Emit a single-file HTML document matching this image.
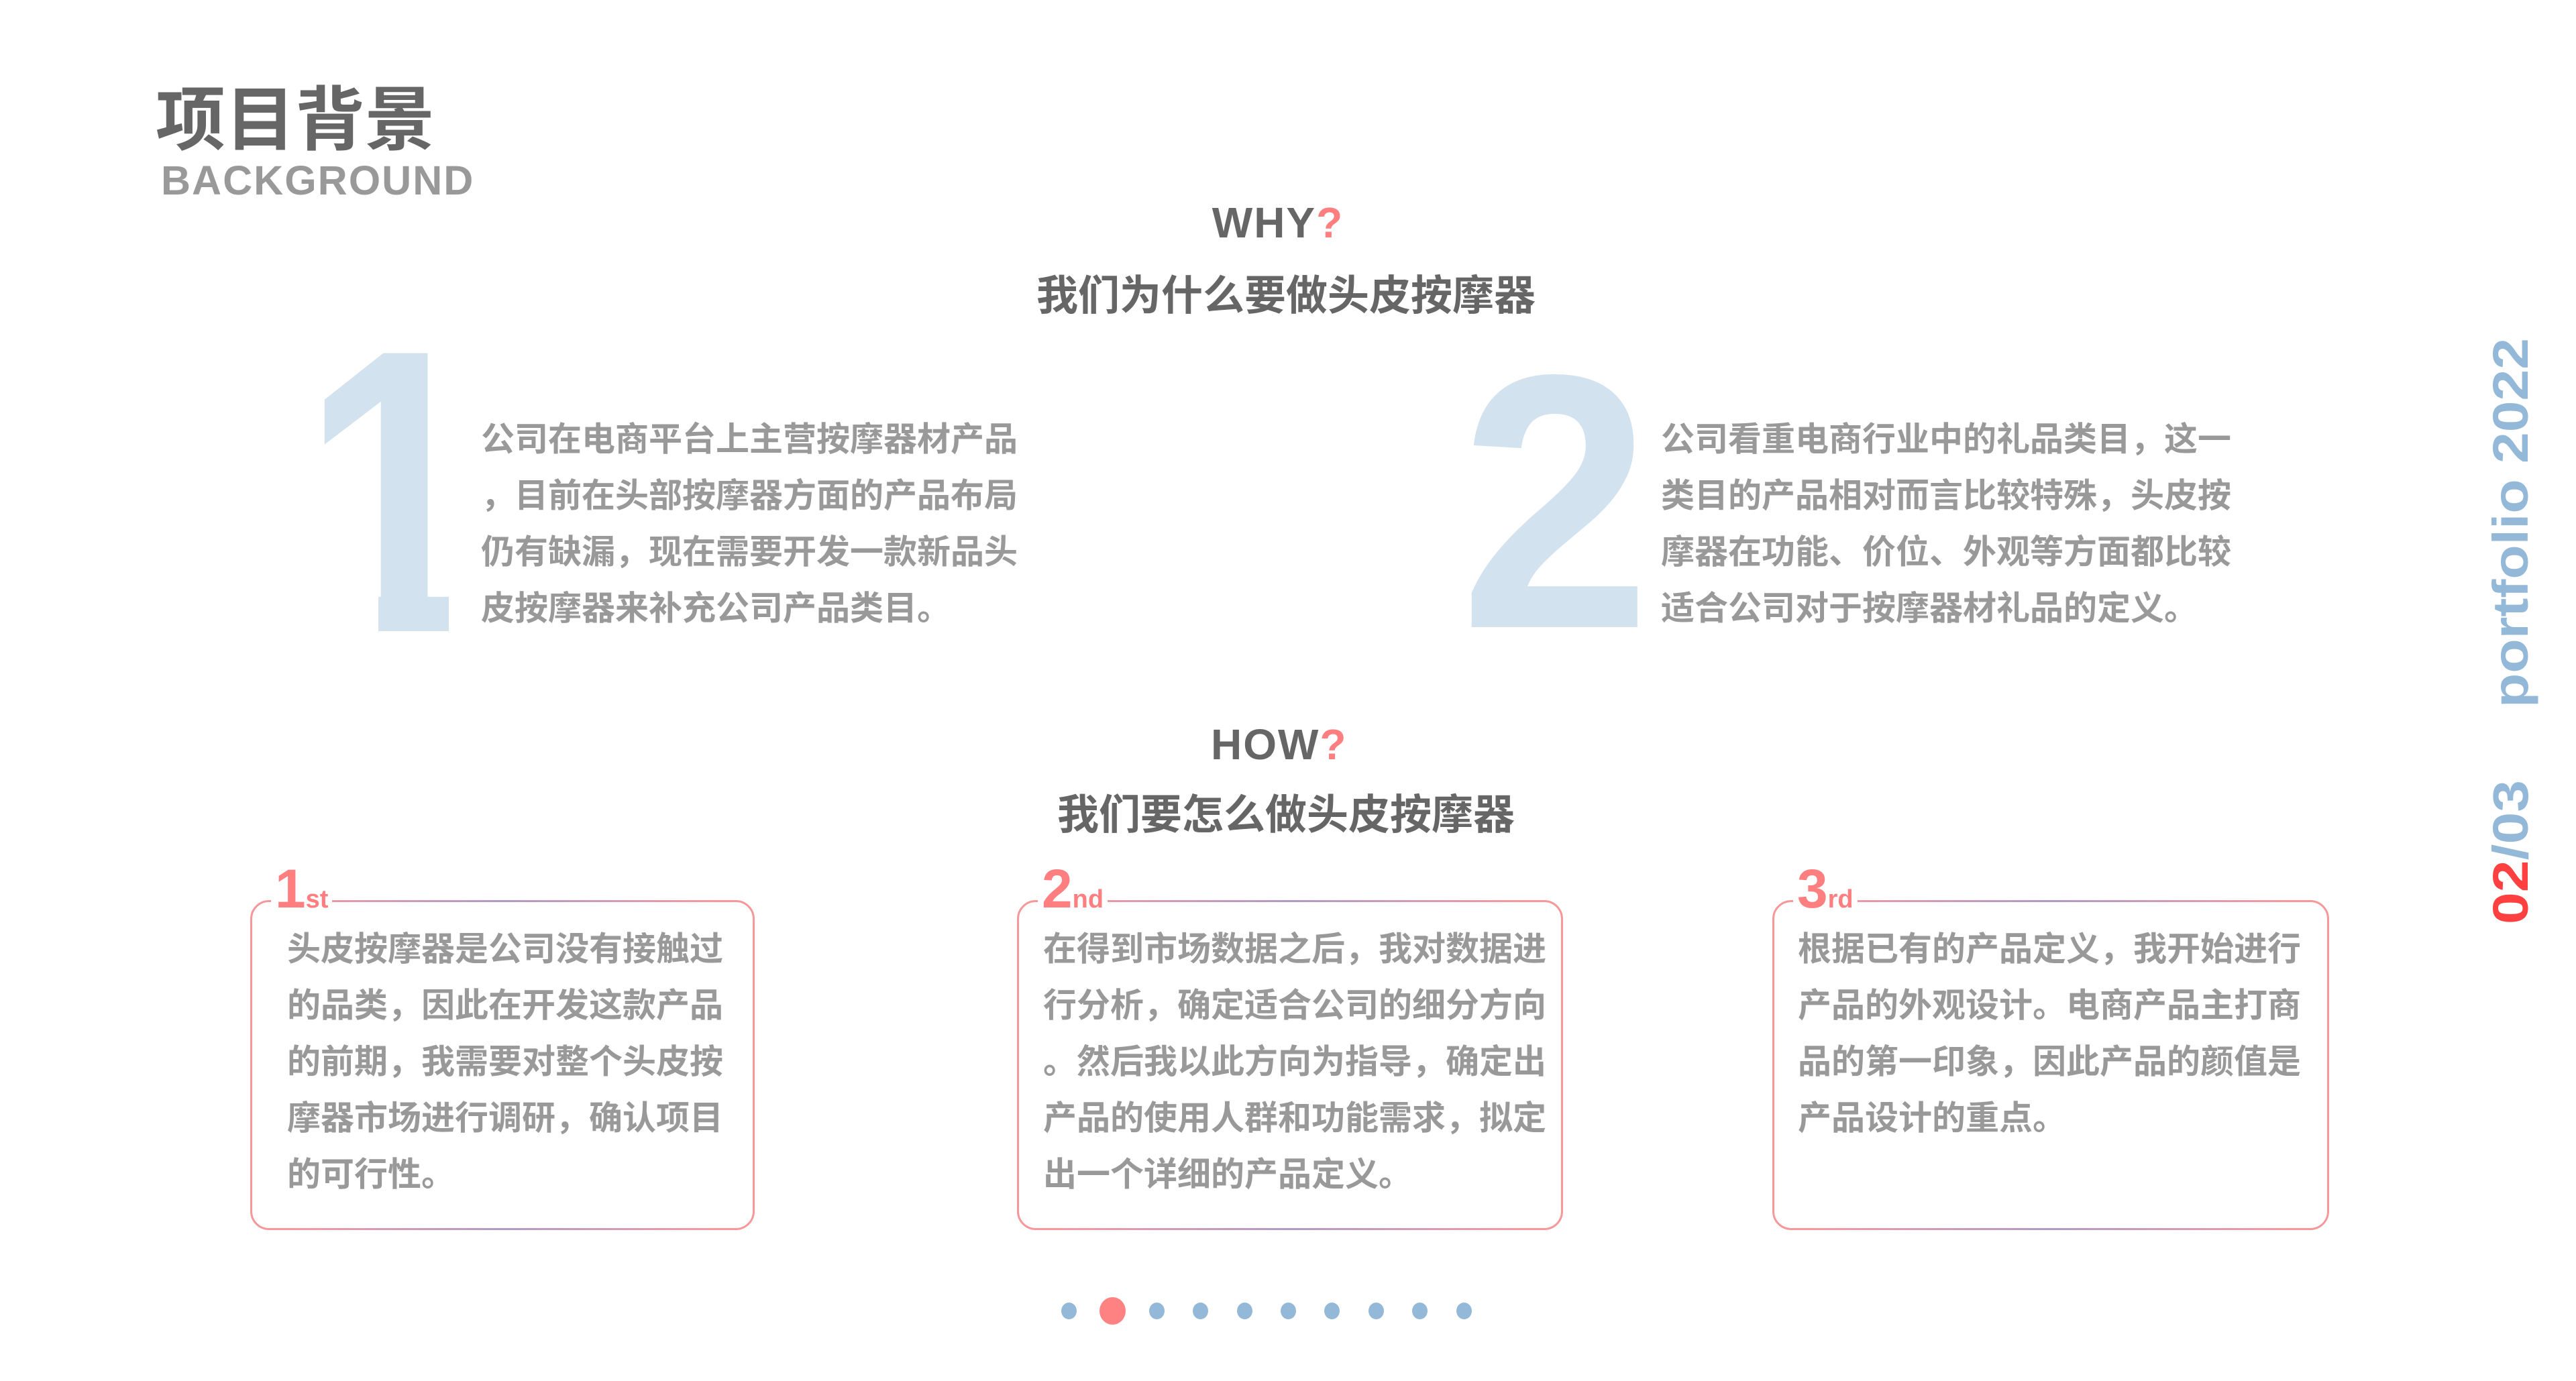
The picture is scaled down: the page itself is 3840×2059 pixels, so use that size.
<!DOCTYPE html>
<html><head><meta charset="utf-8"><style>
html,body{margin:0;padding:0;background:#fff;}
body{width:3840px;height:2059px;position:relative;overflow:hidden;font-family:"Liberation Sans","Noto Sans CJK SC",sans-serif;}
.a{position:absolute;white-space:nowrap;}
.cn{font-family:"Noto Sans CJK SC","Liberation Sans",sans-serif;font-weight:bold;}
.p{font-size:50px;line-height:84px;color:#999;}
.big{font-family:"Liberation Sans",sans-serif;font-weight:bold;color:#d2e2ef;line-height:1;}
.card{position:absolute;border:3px solid #f7979a;border-radius:28px;box-sizing:border-box;}
.card:before{content:"";position:absolute;left:60px;right:60px;top:-3px;height:3px;background:linear-gradient(90deg,#f59a9f,#b09ac8,#f59a9f);}
.card:after{content:"";position:absolute;left:60px;right:60px;bottom:-3px;height:3px;background:linear-gradient(90deg,#f59a9f,#b09ac8,#f59a9f);}
.lab{position:absolute;top:-60px;left:28px;background:#fff;color:#ff7e80;font-weight:bold;font-family:"Liberation Sans",sans-serif;padding:0 6px;line-height:1;}
.lab b{font-size:82px;}
.lab span{font-size:38px;}
.dot{position:absolute;width:23px;height:25px;border-radius:50%;background:#94b8d8;top:1942px;}
.w{position:absolute;background:#fff;}
</style></head><body>

<div class="a cn" style="left:232px;top:110px;font-size:104px;line-height:120px;color:#666;">项目背景</div>
<div class="a" style="left:240px;top:234px;font-size:61px;line-height:70px;color:#999;font-weight:bold;letter-spacing:2px;">BACKGROUND</div>

<div class="a" style="left:1805px;top:292px;width:200px;text-align:center;font-size:64px;line-height:80px;font-weight:bold;color:#666;letter-spacing:2px;">WHY<span style="color:#ff7e80">?</span></div>
<div class="a cn" style="left:1545px;top:393px;font-size:62px;line-height:84px;color:#666;">我们为什么要做头皮按摩器</div>

<div class="a big" style="left:401px;top:429px;font-size:620px;transform:scaleX(0.82);transform-origin:267px 0;">1</div>
<div class="w" style="left:380px;top:941px;width:370px;height:80px;"></div>
<div class="w" style="left:380px;top:740px;width:184px;height:240px;"></div>
<div class="w" style="left:669px;top:780px;width:80px;height:220px;"></div>
<div class="a cn p" style="left:717px;top:609px;">公司在电商平台上主营按摩器材产品<br>，目前在头部按摩器方面的产品布局<br>仍有缺漏，现在需要开发一款新品头<br>皮按摩器来补充公司产品类目。</div>

<div class="a big" style="left:2176px;top:479px;font-size:540px;transform:scaleX(0.95);transform-origin:0 0;">2</div>
<div class="a cn p" style="left:2476px;top:609px;">公司看重电商行业中的礼品类目，这一<br>类目的产品相对而言比较特殊，头皮按<br>摩器在功能、价位、外观等方面都比较<br>适合公司对于按摩器材礼品的定义。</div>

<div class="a" style="left:1805px;top:1070px;width:200px;text-align:center;font-size:64px;line-height:80px;font-weight:bold;color:#666;letter-spacing:2px;">HOW<span style="color:#ff7e80">?</span></div>
<div class="a cn" style="left:1576px;top:1167px;font-size:62px;line-height:84px;color:#666;">我们要怎么做头皮按摩器</div>

<div class="card" style="left:373px;top:1342px;width:752px;height:492px;">
<div class="lab"><b>1</b><span>st</span></div>
<div class="a cn p" style="left:52px;top:24px;">头皮按摩器是公司没有接触过<br>的品类，因此在开发这款产品<br>的前期，我需要对整个头皮按<br>摩器市场进行调研，确认项目<br>的可行性。</div>
</div>
<div class="card" style="left:1516px;top:1342px;width:814px;height:492px;">
<div class="lab"><b>2</b><span>nd</span></div>
<div class="a cn p" style="left:36px;top:24px;">在得到市场数据之后，我对数据进<br>行分析，确定适合公司的细分方向<br>。然后我以此方向为指导，确定出<br>产品的使用人群和功能需求，拟定<br>出一个详细的产品定义。</div>
</div>
<div class="card" style="left:2642px;top:1342px;width:830px;height:492px;">
<div class="lab"><b>3</b><span>rd</span></div>
<div class="a cn p" style="left:35px;top:24px;">根据已有的产品定义，我开始进行<br>产品的外观设计。电商产品主打商<br>品的第一印象，因此产品的颜值是<br>产品设计的重点。</div>
</div>

<div class="dot" style="left:1582px;"></div>
<div class="dot" style="left:1639px;top:1934px;width:39px;height:41px;background:#ff8282;"></div>
<div class="dot" style="left:1713px;"></div>
<div class="dot" style="left:1778px;"></div>
<div class="dot" style="left:1844px;"></div>
<div class="dot" style="left:1909px;"></div>
<div class="dot" style="left:1974px;"></div>
<div class="dot" style="left:2040px;"></div>
<div class="dot" style="left:2105px;"></div>
<div class="dot" style="left:2171px;"></div>

<svg class="a" style="left:3680px;top:480px;" width="160" height="940" viewBox="0 0 160 940">
<g transform="translate(88,0) rotate(-90)" font-family="Liberation Sans, sans-serif" font-weight="bold" font-size="74">
<text x="-575" y="0" textLength="551" lengthAdjust="spacingAndGlyphs" fill="#94b8d8">portfolio 2022</text>
<text x="-898" y="0" textLength="215" lengthAdjust="spacingAndGlyphs"><tspan fill="#ff4040">02</tspan><tspan fill="#94b8d8">/03</tspan></text>
</g>
</svg>

</body></html>
